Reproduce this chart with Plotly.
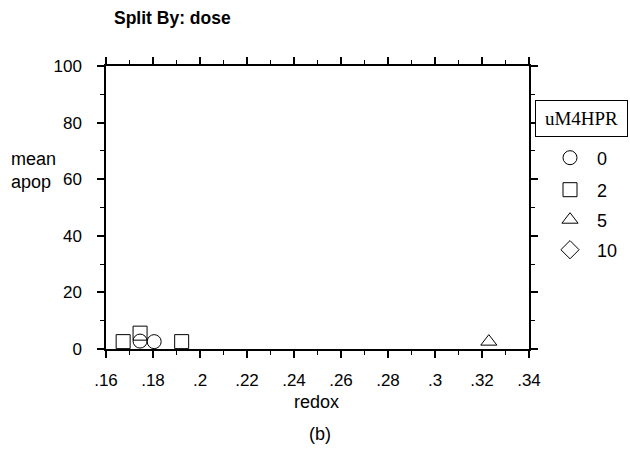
import plotly.graph_objects as go

# data
dose_labels = ["0", "2", "5", "10"]
symbols = ["circle-open", "square-open", "triangle-up-open", "diamond-open"]
redox_0 = [0.1745, 0.1805]
apop_0 = [2.8, 2.6]
redox_2 = [0.1673, 0.1745, 0.1922]
apop_2 = [2.6, 5.6, 2.6]
redox_5 = [0.3229]
apop_5 = [2.6]
redox_10 = []
apop_10 = []

x_tickvals = [0.16, 0.18, 0.20, 0.22, 0.24, 0.26, 0.28, 0.30, 0.32, 0.34]
x_ticktext = [".16", ".18", ".2", ".22", ".24", ".26", ".28", ".3", ".32", ".34"]
y_tickvals = [0, 20, 40, 60, 80, 100]

xs = [redox_0, redox_2, redox_5, redox_10]
ys = [apop_0, apop_2, apop_5, apop_10]

L, R, T, B = 106, 529, 66, 349
W, H = 630, 449
pw, ph = R - L, B - T


def px(xp):
    return (xp - L) / pw


def py(yp):
    return (B - yp) / ph


fig = go.Figure()
legend_names = ["legend", "legend2", "legend3", "legend4"]
for i, (lab, sym) in enumerate(zip(dose_labels, symbols)):
    fig.add_trace(go.Scatter(
        x=xs[i] if xs[i] else [None], y=ys[i] if ys[i] else [None],
        mode="markers", name=lab, legend=legend_names[i],
        marker=dict(symbol=sym, size=14, color="black", line=dict(width=1, color="black")),
        showlegend=True, cliponaxis=False,
    ))

font = dict(family="Liberation Sans, Arial", size=17, color="black")
font18 = dict(family="Liberation Sans, Arial", size=18, color="black")
axis_common = dict(showline=True, linecolor="black", linewidth=1.5, mirror="allticks",
                   ticks="outside", ticklen=7, tickwidth=1.5, tickcolor="black",
                   showgrid=False, zeroline=False, tickfont=font)

fig.update_xaxes(range=[0.16, 0.34], tickvals=x_tickvals, ticktext=x_ticktext,
                 ticklabelstandoff=8,
                 minor=dict(dtick=0.01, ticks="outside", ticklen=4, tickcolor="black", tickwidth=1),
                 **axis_common)
fig.update_yaxes(range=[0, 100], tickvals=y_tickvals, ticklabelstandoff=12,
                 minor=dict(dtick=10, ticks="outside", ticklen=4, tickcolor="black", tickwidth=1),
                 **axis_common)

leg_y = [158, 190, 220, 250]
legends = {}
for i, name in enumerate(legend_names):
    legends[name] = dict(x=px(543), y=py(leg_y[i]), yanchor="middle",
                         xanchor="left", font=font18, bgcolor="rgba(0,0,0,0)",
                         itemwidth=44, borderwidth=0)

fig.update_layout(
    width=W, height=H,
    margin=dict(l=L, r=W - R, t=T, b=H - B, autoexpand=False),
    plot_bgcolor="white", paper_bgcolor="white",
    font=font,
    **legends,
    annotations=[
        dict(text="<b>Split By: dose</b>", xref="paper", yref="paper", x=px(112),
             y=py(18), xanchor="left", yanchor="middle", showarrow=False,
             font=dict(family="Liberation Sans, Arial", size=17.5, color="black")),
        dict(text="mean<br>apop", xref="paper", yref="paper", x=px(9),
             y=py(170), xanchor="left", yanchor="middle", showarrow=False,
             align="left", font=font18),
        dict(text="redox", xref="paper", yref="paper", x=px(316),
             y=py(402), xanchor="center", yanchor="middle", showarrow=False,
             font=font18),
        dict(text="uM4HPR", xref="paper", yref="paper", x=px(581),
             y=py(118), xanchor="center", yanchor="middle", showarrow=False,
             font=dict(family="Liberation Serif, Times New Roman", size=19, color="black"),
             bordercolor="black", borderwidth=1, borderpad=7, bgcolor="white", width=77),
        dict(text="(b)", xref="paper", yref="paper", x=px(320),
             y=py(434), xanchor="center", yanchor="middle", showarrow=False,
             font=font18),
    ],
)

fig.write_html("out.html", config={"displayModeBar": False},
               post_script="document.body.style.margin='0';")
